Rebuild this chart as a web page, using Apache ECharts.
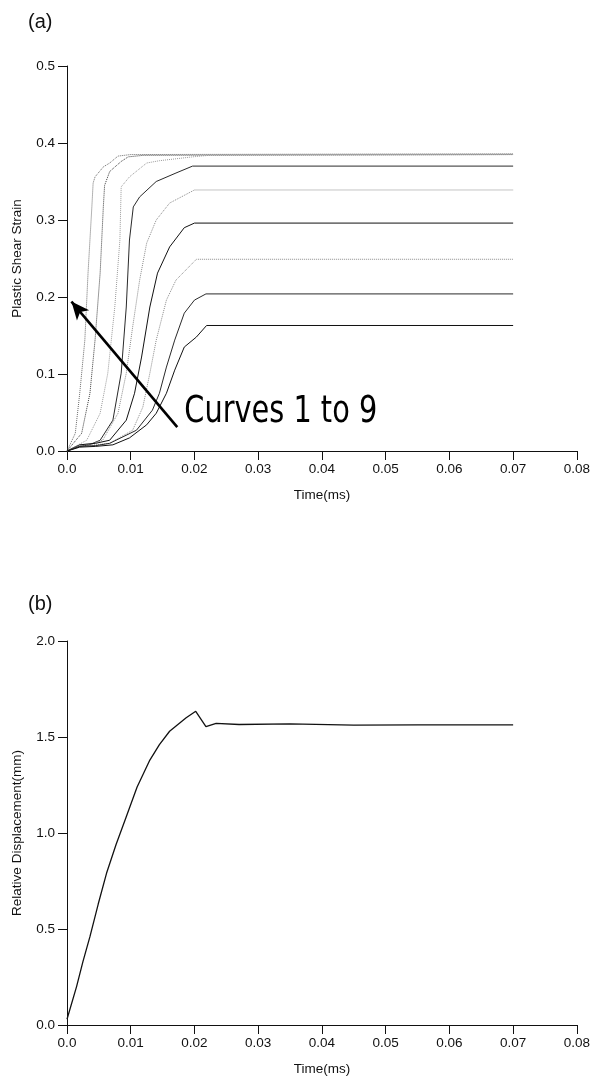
<!DOCTYPE html>
<html>
<head>
<meta charset="utf-8">
<script src="https://cdn.jsdelivr.net/npm/echarts@6/dist/echarts.min.js"></script>
<style>
html,body{margin:0;padding:0;background:#fff;}
#c{width:593px;height:1086px;}
</style>
</head>
<body>
<div id="c"></div>
<script>
// ---- data (time in ms, value) ----
const xTicks = [0, 0.01, 0.02, 0.03, 0.04, 0.05, 0.06, 0.07, 0.08];
const strainTicks = [0, 0.1, 0.2, 0.3, 0.4, 0.5];
const dispTicks = [0, 0.5, 1.0, 1.5, 2.0];

const curve1 = [[0,0],[0.0013,0.023],[0.002,0.075],[0.0028,0.144],[0.0033,0.231],[0.0039,0.317],[0.0041,0.348],[0.0044,0.356],[0.0057,0.369],[0.0067,0.374],[0.008,0.383],[0.01,0.385],[0.07,0.386]];
const curve2 = [[0,0],[0.0023,0.023],[0.0036,0.075],[0.0044,0.144],[0.0052,0.231],[0.0057,0.317],[0.0059,0.345],[0.0067,0.363],[0.0085,0.376],[0.0096,0.382],[0.012,0.384],[0.07,0.385]];
const curve3 = [[0,0],[0.0031,0.014],[0.0052,0.049],[0.0064,0.101],[0.0075,0.187],[0.0083,0.274],[0.0085,0.343],[0.0098,0.356],[0.0125,0.374],[0.0145,0.377],[0.0197,0.382],[0.0223,0.384],[0.07,0.385]];
const curve4 = [[0,0],[0.002,0.006],[0.0035,0.008],[0.0052,0.014],[0.0072,0.040],[0.0085,0.101],[0.0093,0.187],[0.0098,0.274],[0.0104,0.317],[0.0114,0.330],[0.014,0.350],[0.0171,0.361],[0.0197,0.370],[0.07,0.370]];
const curve5 = [[0,0],[0.002,0.008],[0.004,0.010],[0.0056,0.014],[0.008,0.049],[0.0093,0.101],[0.0103,0.161],[0.0114,0.222],[0.0125,0.270],[0.014,0.300],[0.0161,0.322],[0.020,0.339],[0.07,0.339]];
const curve6 = [[0,0],[0.002,0.008],[0.0045,0.010],[0.0067,0.014],[0.0093,0.040],[0.0106,0.075],[0.0117,0.122],[0.013,0.187],[0.0142,0.231],[0.0161,0.265],[0.0184,0.290],[0.020,0.296],[0.07,0.296]];
const curve7 = [[0,0],[0.002,0.007],[0.0045,0.008],[0.0067,0.010],[0.0103,0.027],[0.0119,0.057],[0.013,0.101],[0.014,0.144],[0.0156,0.196],[0.0171,0.222],[0.0203,0.249],[0.07,0.249]];
const curve8 = [[0,0],[0.002,0.006],[0.0045,0.007],[0.0067,0.010],[0.0109,0.027],[0.0134,0.053],[0.0145,0.075],[0.0156,0.109],[0.0169,0.144],[0.0184,0.179],[0.020,0.196],[0.0218,0.204],[0.07,0.204]];
const curve9 = [[0,0],[0.002,0.005],[0.0045,0.006],[0.0072,0.008],[0.0098,0.017],[0.0125,0.034],[0.014,0.049],[0.0156,0.075],[0.0169,0.105],[0.0184,0.135],[0.0203,0.148],[0.0219,0.163],[0.07,0.163]];

const displacement = [[0,0.03],[0.0015,0.20],[0.0025,0.33],[0.0036,0.46],[0.0049,0.63],[0.0062,0.79],[0.0077,0.94],[0.0093,1.085],[0.011,1.24],[0.013,1.38],[0.0145,1.46],[0.0161,1.53],[0.0187,1.60],[0.0202,1.634],[0.0218,1.554],[0.0234,1.571],[0.027,1.565],[0.035,1.568],[0.045,1.562],[0.055,1.563],[0.07,1.563]];

const arrowFrom = [0.0173, 0.031];
const arrowTo = [0.0007, 0.194];
const noteAt = [0.0184, 0.051];

// ---- styles ----
const curves = [curve1, curve2, curve3, curve4, curve5, curve6, curve7, curve8, curve9];
const curveStyle = [
  {color:'#6a6a6a', type:'dotted'},
  {color:'#3a3a3a', type:'dotted'},
  {color:'#9a9a9a', type:'dotted'},
  {color:'#2a2a2a', type:'solid'},
  {color:'#8a8a8a', type:'dotted'},
  {color:'#111111', type:'solid'},
  {color:'#8a8a8a', type:'dotted'},
  {color:'#2a2a2a', type:'solid'},
  {color:'#111111', type:'solid'}
];

const FONT = '"Liberation Sans", Arial, sans-serif';
const FS = 13.5;
const fmt1 = v => v.toFixed(1);
const fmtX = v => v === 0 ? '0.0' : v.toFixed(2);

function xAxis(gi){
  return {
    gridIndex: gi, type:'value', min:0, max:0.08, interval:0.01,
    name:'Time(ms)', nameLocation:'middle', nameGap:37,
    nameTextStyle:{fontFamily:FONT, fontSize:FS, color:'#111'},
    axisLine:{lineStyle:{color:'#111', width:1}},
    axisTick:{length:9, lineStyle:{color:'#111'}},
    axisLabel:{formatter:fmtX, fontFamily:FONT, fontSize:FS, color:'#111', margin:11},
    splitLine:{show:false}
  };
}
function yAxis(gi, max, interval, name){
  return {
    gridIndex: gi, type:'value', min:0, max:max, interval:interval,
    name:name, nameLocation:'middle', nameGap:43,
    nameTextStyle:{fontFamily:FONT, fontSize:FS, color:'#111'},
    axisLine:{show:true, lineStyle:{color:'#111', width:1}},
    axisTick:{show:true, length:9, lineStyle:{color:'#111'}},
    axisLabel:{formatter:fmt1, fontFamily:FONT, fontSize:FS, color:'#111', margin:12},
    splitLine:{show:false}
  };
}

const series = curves.map((c,i)=>({
  type:'line', xAxisIndex:0, yAxisIndex:0, data:c, showSymbol:false, symbol:'none',
  lineStyle:{width:1, color:curveStyle[i].color, type:curveStyle[i].type},
  animation:false, silent:true
}));
series.push({
  type:'line', xAxisIndex:0, yAxisIndex:0, data:[], symbol:'none',
  markLine:{
    silent:true, animation:false,
    symbol:['none','arrow'], symbolSize:[12,18],
    label:{show:false},
    lineStyle:{color:'#000', width:2.6, type:'solid', curveness:-0.06},
    data:[[{coord:arrowFrom},{coord:arrowTo}]]
  }
});
series.push({
  type:'line', xAxisIndex:1, yAxisIndex:1, data:displacement, symbol:'none', showSymbol:false,
  lineStyle:{width:1.3, color:'#111'}, animation:false, silent:true
});

const chart = echarts.init(document.getElementById('c'), null, {renderer:'canvas'});
chart.setOption({
  backgroundColor:'#fff',
  animation:false,
  title:[
    {text:'(a)', left:23, top:7, textStyle:{fontFamily:FONT, fontSize:20, fontWeight:'normal', color:'#111'}},
    {text:'(b)', left:23, top:589, textStyle:{fontFamily:FONT, fontSize:20, fontWeight:'normal', color:'#111'}}
  ],
  grid:[
    {left:67, top:66, width:512, height:385},
    {left:67, top:641, width:512, height:384}
  ],
  xAxis:[xAxis(0), xAxis(1)],
  yAxis:[yAxis(0,0.5,0.1,'Plastic Shear Strain'), yAxis(1,2.0,0.5,'Relative Displacement(mm)')],
  series:series
});

const p = chart.convertToPixel({xAxisIndex:0, yAxisIndex:0}, noteAt);
chart.setOption({
  graphic:[{
    type:'text', x:p[0], y:p[1], scaleX:0.8, scaleY:1.05,
    style:{text:'Curves 1 to 9', fontFamily:'"DejaVu Sans", sans-serif', fontSize:36, fill:'#000',
      verticalAlign:'middle', align:'left'}
  }]
});
</script>
</body>
</html>
